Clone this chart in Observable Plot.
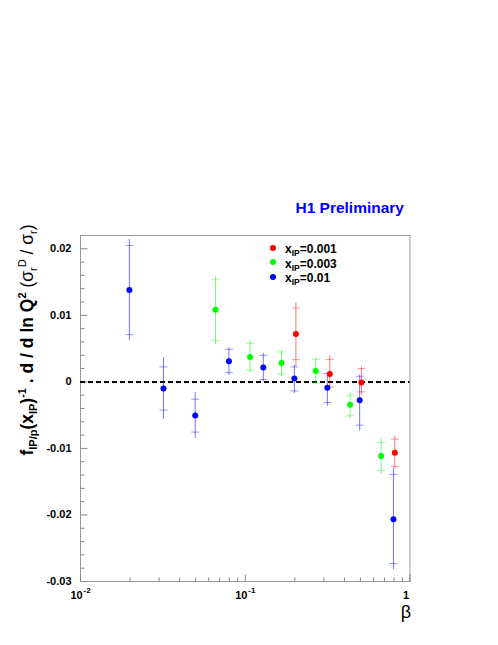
<!DOCTYPE html>
<html><head><meta charset="utf-8">
<script src="https://cdn.jsdelivr.net/npm/d3@7"></script>
<script src="https://cdn.jsdelivr.net/npm/@observablehq/plot@0.6"></script>
<style>
body{margin:0;background:#fff;}
#wrap{position:relative;width:498px;height:645px;font-family:"Liberation Sans",Arial,Helvetica,sans-serif;}
#title{position:absolute;right:94px;top:199px;font-size:15.5px;font-weight:bold;color:#0000ff;white-space:nowrap;}
#ylab{position:absolute;left:28px;top:340px;transform:translate(-50%,-50%) rotate(-90deg);white-space:nowrap;font-size:17.5px;font-weight:bold;color:#000;line-height:1;}
#ylab sub,#ylab sup{font-size:11px;}
#ylab .n{font-weight:normal;}
#legend{position:absolute;left:270px;top:242px;font-size:12px;font-weight:bold;}
#legend .row{height:14.5px;line-height:14.5px;white-space:nowrap;}
#legend .dot{display:inline-block;width:6px;height:6px;border-radius:50%;margin-right:9px;vertical-align:middle;position:relative;top:-2px;}
#legend sub{font-size:8.5px;vertical-align:-3px;line-height:0;}
</style></head><body><div id="wrap"></div><script>
// ---- data ----
const seriesLabels = ["0.001", "0.003", "0.01"];
const seriesColors = ["#ff0000", "#00ff00", "#0000ff"];

// x_IP = 0.001
const betaRed   = [0.203, 0.326, 0.507, 0.809];
const valRed    = [0.0072, 0.0012, -0.0001, -0.01065];
const statHiRed = [0.0111, 0.00335, 0.0020, -0.0086];
const statLoRed = [0.00335, -0.00075, -0.0015, -0.0127];
const totHiRed  = [0.01185, 0.0039, 0.00225, -0.0082];
const totLoRed  = [0.0023, -0.00095, -0.002, -0.0131];

// x_IP = 0.003
const betaGreen   = [0.066, 0.107, 0.166, 0.268, 0.433, 0.668];
const valGreen    = [0.01085, 0.00375, 0.00285, 0.00165, -0.00345, -0.01115];
const statHiGreen = [0.01535, 0.0058, 0.0045, 0.00335, -0.002, -0.0091];
const statLoGreen = [0.0062, 0.00175, 0.00115, -0.00015, -0.0051, -0.0133];
const totHiGreen  = [0.01585, 0.00625, 0.00475, 0.00365, -0.0016, -0.0085];
const totLoGreen  = [0.0056, 0.00135, 0.00075, -0.0004, -0.0055, -0.0138];

// x_IP = 0.01
const betaBlue   = [0.0198, 0.0319, 0.0497, 0.0796, 0.1287, 0.1986, 0.315, 0.495, 0.794];
const valBlue    = [0.0138, -0.001, -0.00504, 0.0031, 0.00215, 0.0005, -0.0009, -0.00275, -0.02065];
const statHiBlue = [0.0205, 0.00225, -0.0026, 0.0049, 0.004, 0.00225, 0.00125, 0.00085, -0.0139];
const statLoBlue = [0.0071, -0.00424, -0.00754, 0.0014, 0.00035, -0.00135, -0.0031, -0.0065, -0.0273];
const totHiBlue  = [0.0214, 0.00366, -0.0016, 0.0051, 0.0043, 0.0025, 0.00135, 0.001, -0.013];
const totLoBlue  = [0.00625, -0.00564, -0.0085, 0.001, 0, -0.00175, -0.00365, -0.0074, -0.0282];

// axis ticks
const yTickValues = [-0.03, -0.02, -0.01, 0, 0.01, 0.02];
const yTickLabels = ["-0.03", "-0.02", "-0.01", "0", "0.01", "0.02"];
const xTickValues = [0.01, 0.1, 1];
const xTickBase   = ["10", "10", "1"];
const xTickExp    = ["-2", "-1", ""];
const xMinorTicks = [0.02,0.03,0.04,0.05,0.06,0.07,0.08,0.09,0.2,0.3,0.4,0.5,0.6,0.7,0.8,0.9];
const yMinorTicks = d3.range(-30, 23, 2).filter(v => v % 10 !== 0).map(v => v / 1000);

// ---- build table ----
function build(s, beta, val, sHi, sLo, tHi, tLo) {
  return beta.map((b, i) => ({s, beta: b, val: val[i], sHi: sHi[i], sLo: sLo[i], tHi: tHi[i], tLo: tLo[i]}));
}
const data = [
  ...build(0, betaRed, valRed, statHiRed, statLoRed, totHiRed, totLoRed),
  ...build(1, betaGreen, valGreen, statHiGreen, statLoGreen, totHiGreen, totLoGreen),
  ...build(2, betaBlue, valBlue, statHiBlue, statLoBlue, totHiBlue, totLoBlue)
];
const statTicks = data.flatMap(d => [{s: d.s, beta: d.beta, y: d.sHi}, {s: d.s, beta: d.beta, y: d.sLo}]);

const hTick = len => ({draw(ctx) { ctx.moveTo(0, 0); ctx.lineTo(len, 0); }});
const hTickC = len => ({draw(ctx) { ctx.moveTo(-len / 2, 0); ctx.lineTo(len / 2, 0); }});
const vTick = len => ({draw(ctx) { ctx.moveTo(0, 0); ctx.lineTo(0, -len); }});
const col = d => seriesColors[d.s];
const axisGrey = "#888";
const font = "Liberation Sans, Arial, Helvetica, sans-serif";

const plot = Plot.plot({
  width: 498, height: 645,
  marginLeft: 80, marginRight: 88.5, marginTop: 235, marginBottom: 64,
  x: {type: "log", domain: [0.01, 1], axis: null},
  y: {domain: [-0.03, 0.022], axis: null},
  style: {fontFamily: font, background: "transparent", overflow: "visible"},
  marks: [
    Plot.frame({stroke: "#999"}),
    // axis ticks (inward)
    Plot.dot(yTickValues, {y: d => d, frameAnchor: "left", symbol: hTick(7), stroke: axisGrey, fill: "none", strokeWidth: 1}),
    Plot.dot(yMinorTicks, {y: d => d, frameAnchor: "left", symbol: hTick(4), stroke: axisGrey, fill: "none", strokeWidth: 1}),
    Plot.dot(xTickValues, {x: d => d, frameAnchor: "bottom", symbol: vTick(7), stroke: axisGrey, fill: "none", strokeWidth: 1}),
    Plot.dot(xMinorTicks, {x: d => d, frameAnchor: "bottom", symbol: vTick(4), stroke: axisGrey, fill: "none", strokeWidth: 1}),
    // tick labels
    Plot.text(yTickValues, {y: d => d, text: (d, i) => yTickLabels[i], frameAnchor: "left", dx: -9, textAnchor: "end", fontSize: 11, fontWeight: "bold", fill: "#000"}),
    Plot.text(xTickValues, {x: d => d, text: (d, i) => xTickBase[i], frameAnchor: "bottom", lineAnchor: "bottom", dy: 17, dx: (-4), textAnchor: "middle", fontSize: 11, fontWeight: "bold", fill: "#000"}),
    Plot.text(xTickValues, {x: d => d, text: (d, i) => xTickExp[i], frameAnchor: "bottom", lineAnchor: "bottom", dy: 11, dx: 3, textAnchor: "start", fontSize: 8, fontWeight: "bold", fill: "#000"}),
    Plot.text(["β"], {text: d => d, frameAnchor: "bottom-right", lineAnchor: "bottom", dx: -4, dy: 36, textAnchor: "middle", fontSize: 18, fill: "#000"}),
    // zero line
    Plot.ruleY([0], {stroke: "#000", strokeWidth: 2, strokeDasharray: "5,3"}),
    // error bars
    Plot.ruleX(data, {x: "beta", y1: "tLo", y2: "tHi", stroke: col, strokeOpacity: 0.55, strokeWidth: 1}),
    Plot.dot(statTicks, {x: "beta", y: "y", symbol: hTickC(8), stroke: col, strokeOpacity: 0.4, fill: "none", strokeWidth: 1}),
    Plot.dot(data, {x: "beta", y: "val", r: 3, fill: col, stroke: "none"})
  ]
});
const wrap = document.getElementById("wrap");
wrap.appendChild(plot);

const title = document.createElement("div");
title.id = "title"; title.textContent = "H1 Preliminary";
wrap.appendChild(title);

const ylab = document.createElement("div");
ylab.id = "ylab";
ylab.innerHTML = 'f<sub>IP/p</sub>(x<sub>IP</sub>)<sup>-1</sup> . d / d ln Q<sup>2</sup> <span class="n">(σ<sub>r</sub><sup>D</sup> / σ<sub>r</sub>)</span>';
wrap.appendChild(ylab);

const legend = document.createElement("div");
legend.id = "legend";
seriesLabels.forEach((lab, i) => {
  const row = document.createElement("div");
  row.className = "row";
  row.innerHTML = `<span class="dot" style="background:${seriesColors[i]}"></span>x<sub>IP</sub>=${lab}`;
  legend.appendChild(row);
});
wrap.appendChild(legend);
</script></body></html>
